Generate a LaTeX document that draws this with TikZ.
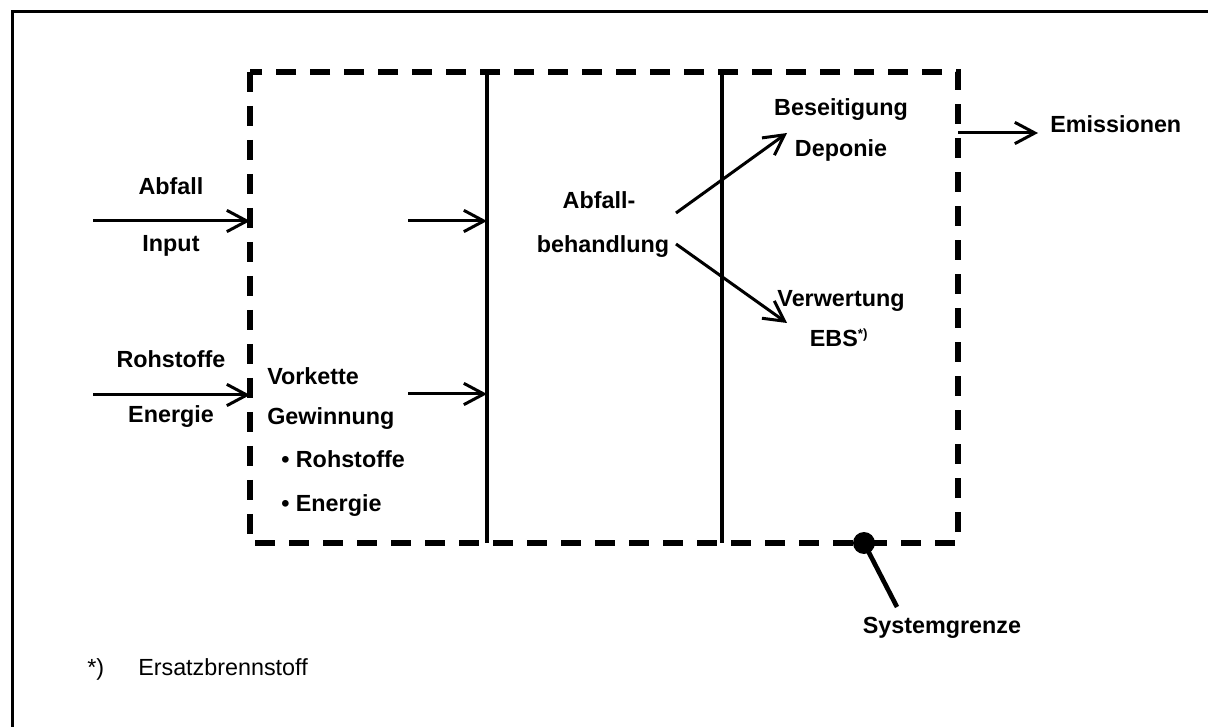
\documentclass[tikz,border=0pt]{standalone}
\usepackage{fontspec}
\setmainfont{Liberation Sans}
\usetikzlibrary{arrows.meta}
\begin{document}
\begin{tikzpicture}[x=0.75pt,y=-0.75pt,
  lbl/.style={font=\fontsize{17.5}{20}\selectfont\bfseries, inner sep=0pt, anchor=base},
  lbll/.style={lbl, anchor=base west},
  note/.style={font=\fontsize{17.5}{20}\selectfont, inner sep=0pt, anchor=base west},
  flow/.style={line width=2.25pt, -{Straight Barb[length=15pt,width=16pt]}},
  boundary/.style={line width=4.5pt, dash pattern=on 15pt off 10.5pt},
  stage/.style={line width=3pt},
  frame/.style={line width=2.25pt}]
\clip (0,0) rectangle (1208,727);

% outer frame (right and bottom edges lie off the page)
\draw[frame] (12,760) -- (12,12) -- (1240,12);

% system boundary and stage separators
\draw[boundary] (250,72) rectangle (958,543);
\coordinate (s1t) at (487,72);  \coordinate (s1b) at (487,543);
\coordinate (s2t) at (722,72);  \coordinate (s2b) at (722,543);
\draw[stage] (s1t) -- (s1b);
\draw[stage] (s2t) -- (s2b);

% inputs
\node[lbl] (abfall) at (171,195) {Abfall};
\node[lbl] (input) at (171,252) {Input};
\node[lbl] (roh) at (171,368) {Rohstoffe};
\node[lbl] (energie) at (171,423) {Energie};
\coordinate (inA0) at (93,221);  \coordinate (inA1) at (250,221);
\coordinate (inB0) at (93,395);  \coordinate (inB1) at (250,395);
\draw[flow] (inA0) -- (inA1);
\draw[flow] (inB0) -- (inB1);

% upstream chain
\node[lbll] (vork) at (267,385) {Vorkette};
\node[lbll] (gew) at (267,425) {Gewinnung};
\node[lbll] (broh) at (281,468) {\textbullet\ Rohstoffe};
\node[lbll] (bene) at (281,512) {\textbullet\ Energie};
\coordinate (midA0) at (408,221); \coordinate (midA1) at (487,221);
\coordinate (midB0) at (408,394); \coordinate (midB1) at (487,394);
\draw[flow] (midA0) -- (midA1);
\draw[flow] (midB0) -- (midB1);

% waste treatment
\node[lbl] (abf1) at (599,209) {Abfall-};
\node[lbl] (abf2) at (603,253) {behandlung};
\coordinate (outA0) at (676,213); \coordinate (outA1) at (787,133);
\coordinate (outB0) at (676,244); \coordinate (outB1) at (787,323);
\draw[flow] (outA0) -- (outA1);
\draw[flow] (outB0) -- (outB1);

% outputs
\node[lbl] (bes) at (841,116) {Beseitigung};
\node[lbl] (dep) at (841,157) {Deponie};
\node[lbl] (verw) at (841,307) {Verwertung};
\node[lbl] (ebs) at (839,347) {EBS\textsuperscript{\fontsize{10}{10}\selectfont *)}};

% emissions
\coordinate (em0) at (958,133); \coordinate (em1) at (1038,133);
\draw[flow] (em0) -- (em1);
\node[lbll] (emis) at (1050,133) {Emissionen};

% system boundary marker
\node[circle, fill=black, minimum size=16.5pt, inner sep=0pt] (dot) at (864,543) {};
\coordinate (dotend) at (897,607);
\draw[line width=3.5pt] (dot.center) -- (dotend);
\node[lbl] (sys) at (942,633) {Systemgrenze};

% footnote
\node[note] (star) at (87,675) {*)};
\node[note] (ersatz) at (138,675) {Ersatzbrennstoff};
\end{tikzpicture}
\end{document}
